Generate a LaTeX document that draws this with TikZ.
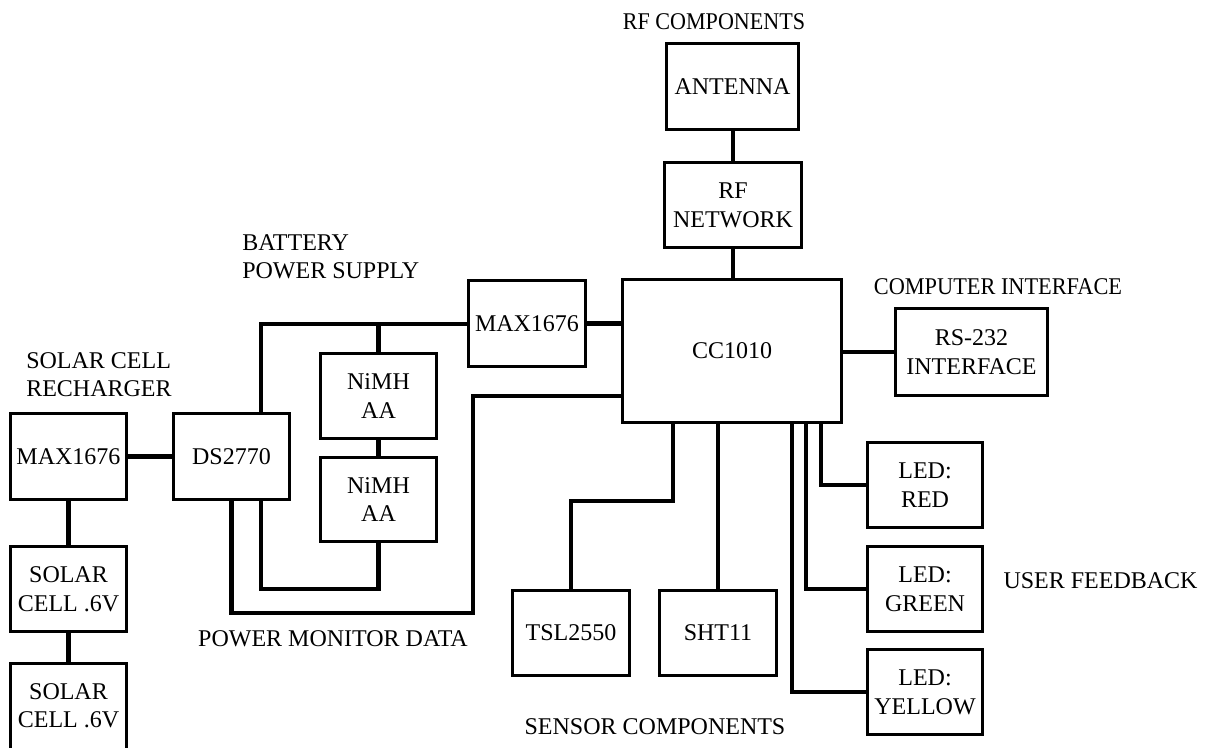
\documentclass[tikz,border=0pt]{standalone}
\usepackage{fontspec}
\usepackage{graphicx}
\setmainfont{Liberation Serif}
\begin{document}
\begin{tikzpicture}[x=0.75pt,y=-0.75pt,
  box/.style={draw, line width=2.3pt, inner sep=0pt, align=center,
    font=\fontsize{18}{21.5}\selectfont},
  wire/.style={line width=3.3pt},
  lbl/.style={inner sep=0pt, align=left, font=\fontsize{18}{21}\selectfont}]
\useasboundingbox (0,0) rectangle (1205,747);
% boxes
\node[box, minimum width=132*0.75pt, minimum height=86*0.75pt] (ant) at (732.5,86.5) {ANTENNA};
\node[box, minimum width=137*0.75pt, minimum height=85*0.75pt] (rfn) at (733,205) {RF\\NETWORK};
\node[box, minimum width=219*0.75pt, minimum height=143*0.75pt] (cc) at (732,351) {CC1010};
\node[box, minimum width=117*0.75pt, minimum height=86*0.75pt] (maxb) at (527,323.5) {MAX1676};
\node[box, minimum width=152*0.75pt, minimum height=87*0.75pt] (rs) at (971.5,352) {RS-232\\INTERFACE};
\node[box, minimum width=116*0.75pt, minimum height=86*0.75pt] (maxs) at (68.5,456.5) {MAX1676};
\node[box, minimum width=116*0.75pt, minimum height=86*0.75pt] (ds) at (231.5,456.5) {DS2770};
\node[box, minimum width=116*0.75pt, minimum height=85*0.75pt] (ni1) at (378.5,396) {NiMH\\AA};
\node[box, minimum width=116*0.75pt, minimum height=84*0.75pt] (ni2) at (378.5,499.5) {NiMH\\AA};
\node[box, minimum width=116*0.75pt, minimum height=85*0.75pt] (sc1) at (68.5,589) {SOLAR\\CELL .6V};
\node[box, minimum width=116*0.75pt, minimum height=88*0.75pt] (sc2) at (68.5,707.5) {};
\node[lbl, align=center] (sc2t) at (68.5,706) {SOLAR\\CELL .6V};
\node[box, minimum width=117*0.75pt, minimum height=85*0.75pt] (tsl) at (571,633) {TSL2550};
\node[box, minimum width=117*0.75pt, minimum height=85*0.75pt] (sht) at (718,633) {SHT11};
\node[box, minimum width=115*0.75pt, minimum height=85*0.75pt] (red) at (925,485) {LED:\\RED};
\node[box, minimum width=115*0.75pt, minimum height=85*0.75pt] (grn) at (925,589) {LED:\\GREEN};
\node[box, minimum width=115*0.75pt, minimum height=85*0.75pt] (yel) at (925,692) {LED:\\YELLOW};
% labels
\node[lbl] (lrf) at (714,22) {\scalebox{0.92}[1]{RF COMPONENTS}};
\node[lbl] (lci) at (998,287) {\scalebox{0.93}[1]{COMPUTER INTERFACE}};
\node[lbl, anchor=west] (lbp) at (242,256.5) {BATTERY\\POWER SUPPLY};
\node[lbl, anchor=west] (lsc) at (26,374.5) {SOLAR CELL\\RECHARGER};
\node[lbl] (lpm) at (333,639) {POWER MONITOR DATA};
\node[lbl] (lsn) at (655,727) {SENSOR COMPONENTS};
\node[lbl] (luf) at (1100.5,581) {USER FEEDBACK};
% helper coordinates
\coordinate (dsT) at (261,412);
\coordinate (top) at (261,324);
\coordinate (dsB2) at (261,501);
\coordinate (lo2) at (261,589);
\coordinate (lo1) at (231.5,613);
\coordinate (lo1r) at (473,613);
\coordinate (pmt) at (473,396);
\coordinate (tsl1) at (673,424);
\coordinate (tsl2) at (673,501);
\coordinate (r1) at (821,424);
\coordinate (g1) at (806,424);
\coordinate (y1) at (792,424);
% connectors
\draw[wire] (rfn.north |- ant.south) -- (rfn.north);
\draw[wire] (rfn.south) -- (rfn.south |- cc.north);
\draw[wire] (maxb.east) -- (maxb.east -| cc.west);
\draw[wire] (cc.east |- rs.west) -- (rs.west);
\draw[wire] (maxs.east) -- (ds.west);
\draw[wire] (maxs.south) -- (sc1.north);
\draw[wire] (sc1.south) -- (sc2.north);
\draw[wire] (dsT) -- (top) -- (maxb.west |- top);
\draw[wire] (ni1.north |- top) -- (ni1.north);
\draw[wire] (ni1.south) -- (ni2.north);
\draw[wire] (dsB2) -- (lo2) -- (ni2.south |- lo2) -- (ni2.south);
\draw[wire] (ds.south) -- (lo1) -- (lo1r) -- (pmt) -- (pmt -| cc.west);
\draw[wire] (tsl1) -- (tsl2) -- (tsl.north |- tsl2) -- (tsl.north);
\draw[wire] (sht.north |- cc.south) -- (sht.north);
\draw[wire] (r1) -- (r1 |- red.west) -- (red.west);
\draw[wire] (g1) -- (g1 |- grn.west) -- (grn.west);
\draw[wire] (y1) -- (y1 |- yel.west) -- (yel.west);
\end{tikzpicture}
\end{document}
